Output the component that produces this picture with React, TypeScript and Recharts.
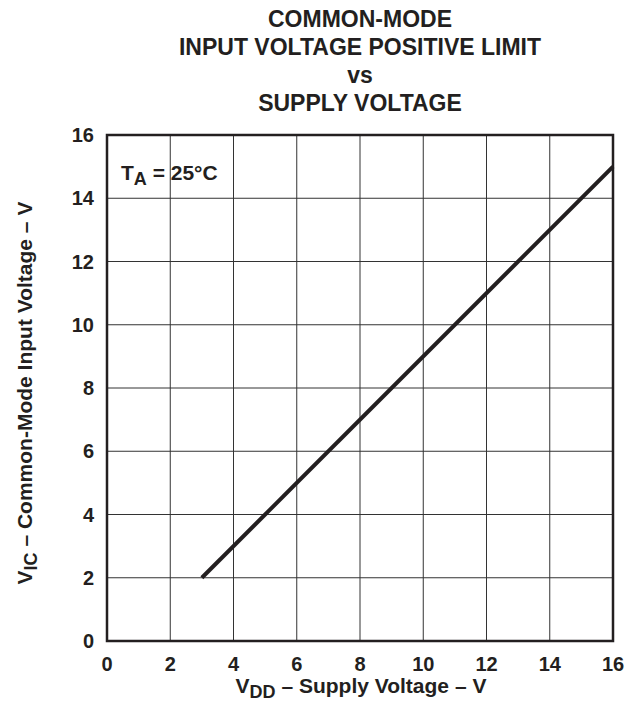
import {
  CartesianGrid,
  Line,
  LineChart,
  ReferenceArea,
  XAxis,
  YAxis,
} from "recharts";

// supply voltage (V) vs common-mode input voltage positive limit (V), TA = 25 C
const supplyVoltage = [3, 16];
const inputLimit = [2, 15];
const xTicks = [0, 2, 4, 6, 8, 10, 12, 14, 16];
const yTicks = [0, 2, 4, 6, 8, 10, 12, 14, 16];
const titleLines = [
  "COMMON-MODE",
  "INPUT VOLTAGE POSITIVE LIMIT",
  "vs",
  "SUPPLY VOLTAGE",
];

const data = supplyVoltage.map((v, i) => ({ vdd: v, vic: inputLimit[i] }));

const font = "'Liberation Sans', Arial, Helvetica, sans-serif";
const ink = "#231f20";

function App() {
  return (
    <div style={{ position: "absolute", left: 0, top: 0, background: "#fff" }}>
      <LineChart
        width={626}
        height={704}
        data={data}
        margin={{ top: 135, right: 13, bottom: 0, left: 0 }}
        style={{ fontFamily: font }}
      >
        <CartesianGrid stroke="#333" strokeWidth={1} />
        <XAxis
          dataKey="vdd"
          type="number"
          domain={[0, 16]}
          ticks={xTicks}
          height={63}
          axisLine={false}
          tickLine={false}
          tickSize={0}
          tickMargin={16}
          interval={0}
          tick={{ fill: ink, fontSize: 20, fontWeight: 700, fontFamily: font }}
        />
        <YAxis
          type="number"
          domain={[0, 16]}
          ticks={yTicks}
          width={107}
          axisLine={false}
          tickLine={false}
          tickSize={0}
          tickMargin={13}
          interval={0}
          tick={{ fill: ink, fontSize: 20, fontWeight: 700, fontFamily: font }}
        />
        <ReferenceArea
          x1={0}
          x2={16}
          y1={0}
          y2={16}
          fill="none"
          stroke={ink}
          strokeWidth={2.5}
          fillOpacity={0}
          ifOverflow="visible"
        />
        <Line
          dataKey="vic"
          type="linear"
          stroke={ink}
          strokeWidth={4}
          dot={false}
          activeDot={false}
          isAnimationActive={false}
        />
        {titleLines.map((t, i) => (
          <text
            key={t}
            x={360}
            y={27 + i * 28}
            textAnchor="middle"
            fontSize={23}
            fontWeight={700}
            fill={ink}
            fontFamily={font}
          >
            {t}
          </text>
        ))}
        <text x={121} y={180} fontSize={21} fontWeight={700} fill={ink} fontFamily={font}>
          T<tspan fontSize={18} dy={5}>A</tspan>
          <tspan dy={-5}> = 25°C</tspan>
        </text>
        <text
          x={361}
          y={693}
          textAnchor="middle"
          fontSize={21}
          fontWeight={700}
          fill={ink}
          fontFamily={font}
        >
          V<tspan fontSize={18} dy={5}>DD</tspan>
          <tspan dy={-5}> – Supply Voltage – V</tspan>
        </text>
        <text
          x={32}
          y={393}
          transform="rotate(-90 32 393)"
          textAnchor="middle"
          fontSize={21}
          fontWeight={700}
          fill={ink}
          fontFamily={font}
        >
          V<tspan fontSize={18} dy={5}>IC</tspan>
          <tspan dy={-5}> – Common-Mode Input Voltage – V</tspan>
        </text>
      </LineChart>
    </div>
  );
}

export default App;
